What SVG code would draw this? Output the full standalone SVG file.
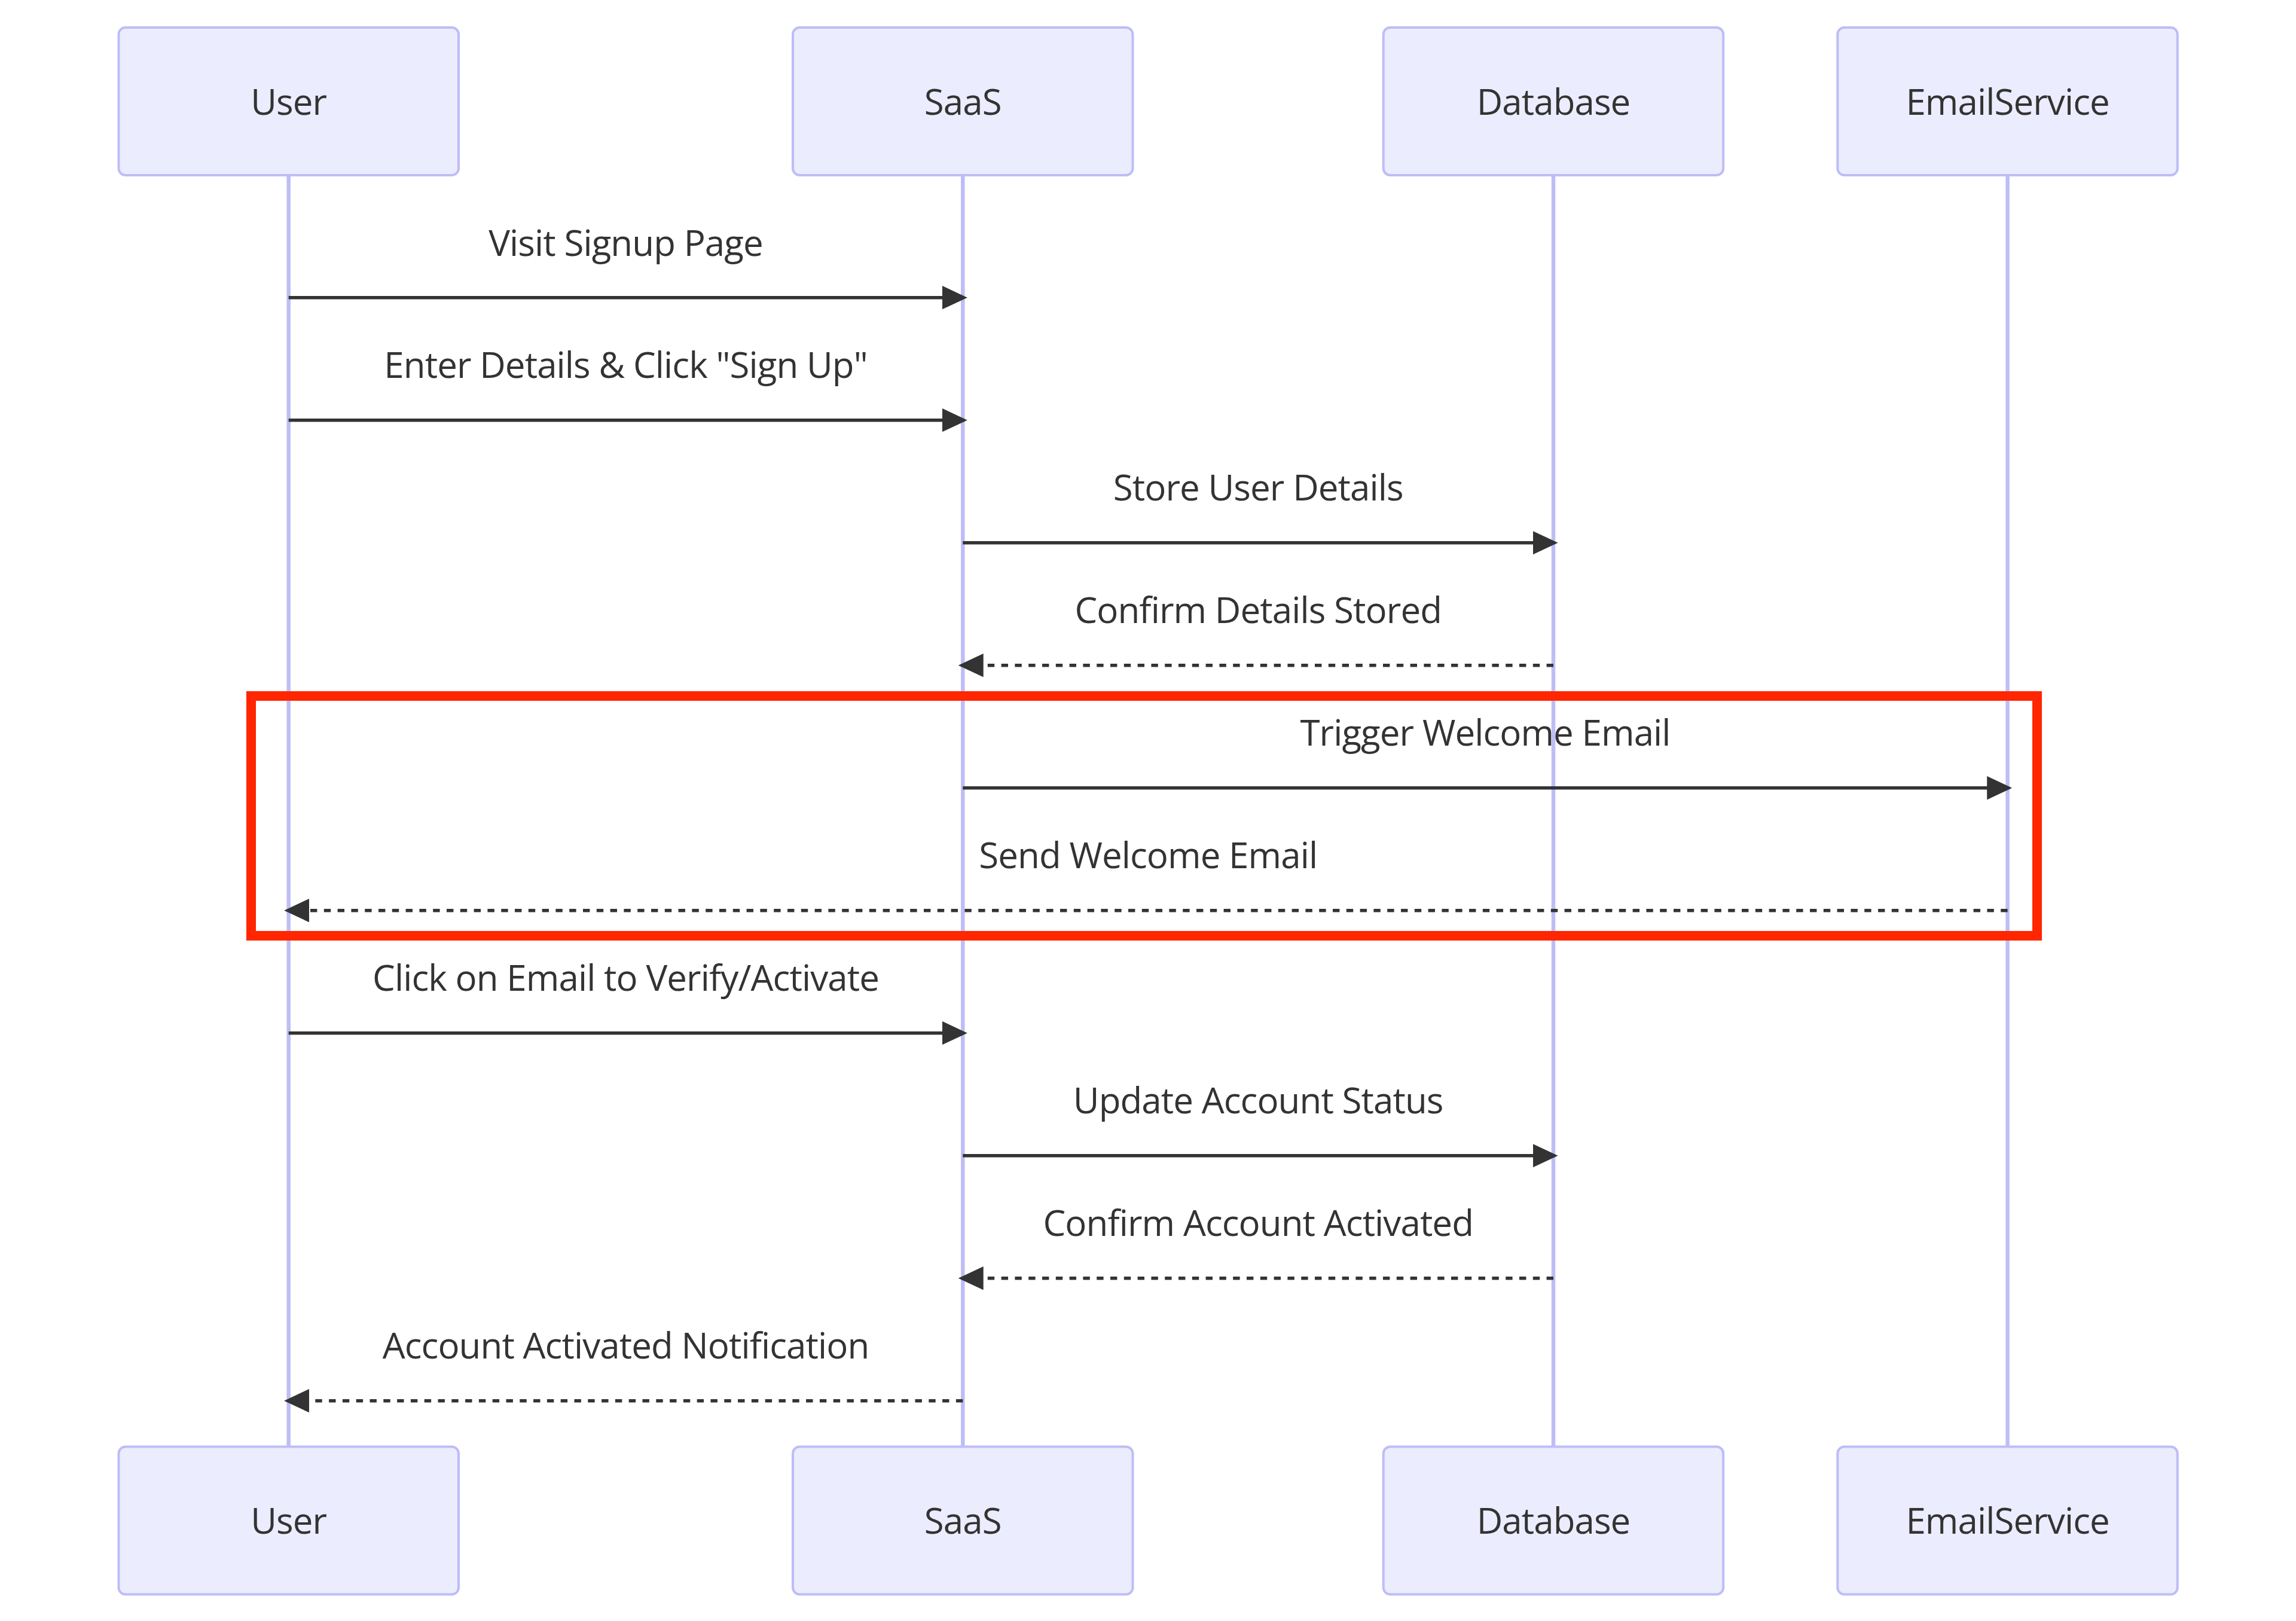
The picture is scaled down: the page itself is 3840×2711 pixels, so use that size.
<svg xmlns="http://www.w3.org/2000/svg" width="3840" height="2711" viewBox="0 0 3840 2711">
<defs>
<style>
.actor{fill:#ECECFF;stroke:#BDBDF7;stroke-width:4}
.atext{font-family:"Open Sans","Noto Sans","Liberation Sans",sans-serif;font-size:60px;letter-spacing:-0.9px;fill:#333333;text-anchor:middle}
.life{stroke:#BDBDF7;stroke-width:6.5}
.msg{stroke:#333333;stroke-width:5.5;fill:none}
.dash{stroke-dasharray:11.4 11.4}
.mtext{font-family:"Open Sans","Noto Sans","Liberation Sans",sans-serif;font-size:60px;letter-spacing:-0.9px;fill:#333333;text-anchor:middle}
</style>
<marker id="arrow" markerUnits="userSpaceOnUse" markerWidth="44" markerHeight="42" refX="34.4" refY="19.7" orient="auto">
<path d="M0,0 L42,19.7 L0,39.4 z" fill="#333333"/>
</marker>
</defs>
<rect width="3840" height="2711" fill="#FFFFFF"/>
<g id="lifelines">
<line class="life" x1="482.7" y1="293" x2="482.7" y2="2419.5"/>
<line class="life" x1="1610.3" y1="293" x2="1610.3" y2="2419.5"/>
<line class="life" x1="2598" y1="293" x2="2598" y2="2419.5"/>
<line class="life" x1="3357.6" y1="293" x2="3357.6" y2="2419.5"/>
</g>
<g id="actor-user-top"><rect class="actor" x="198.5" y="46" width="568.5" height="247" rx="11.4"/><text class="atext" x="482.7" y="192">User</text></g>
<g id="actor-saas-top"><rect class="actor" x="1326" y="46" width="568.5" height="247" rx="11.4"/><text class="atext" x="1610.3" y="192">SaaS</text></g>
<g id="actor-db-top"><rect class="actor" x="2313.7" y="46" width="568.5" height="247" rx="11.4"/><text class="atext" x="2598" y="192">Database</text></g>
<g id="actor-email-top"><rect class="actor" x="3073.3" y="46" width="568.5" height="247" rx="11.4"/><text class="atext" x="3357.6" y="192">EmailService</text></g>
<g id="actor-user-bottom"><rect class="actor" x="198.5" y="2419.5" width="568.5" height="247" rx="11.4"/><text class="atext" x="482.7" y="2565">User</text></g>
<g id="actor-saas-bottom"><rect class="actor" x="1326" y="2419.5" width="568.5" height="247" rx="11.4"/><text class="atext" x="1610.3" y="2565">SaaS</text></g>
<g id="actor-db-bottom"><rect class="actor" x="2313.7" y="2419.5" width="568.5" height="247" rx="11.4"/><text class="atext" x="2598" y="2565">Database</text></g>
<g id="actor-email-bottom"><rect class="actor" x="3073.3" y="2419.5" width="568.5" height="247" rx="11.4"/><text class="atext" x="3357.6" y="2565">EmailService</text></g>
<g id="messages">
<line class="msg" x1="482.7" y1="497.7" x2="1610.3" y2="497.7" marker-end="url(#arrow)"/>
<text class="mtext" x="1046.5" y="427.7">Visit Signup Page</text>
<line class="msg" x1="482.7" y1="702.7" x2="1610.3" y2="702.7" marker-end="url(#arrow)"/>
<text class="mtext" x="1046.5" y="632.2">Enter Details &amp; Click "Sign Up"</text>
<line class="msg" x1="1610.3" y1="907.7" x2="2598" y2="907.7" marker-end="url(#arrow)"/>
<text class="mtext" x="2104.2" y="837.2">Store User Details</text>
<line class="msg dash" x1="2598" y1="1112.7" x2="1610.3" y2="1112.7" marker-end="url(#arrow)"/>
<text class="mtext" x="2104.2" y="1042.2">Confirm Details Stored</text>
<line class="msg" x1="1610.3" y1="1317.7" x2="3357.6" y2="1317.7" marker-end="url(#arrow)"/>
<text class="mtext" x="2484" y="1247.2">Trigger Welcome Email</text>
<line class="msg dash" x1="3357.6" y1="1522.7" x2="482.7" y2="1522.7" marker-end="url(#arrow)"/>
<text class="mtext" x="1920.2" y="1452.2">Send Welcome Email</text>
<line class="msg" x1="482.7" y1="1727.7" x2="1610.3" y2="1727.7" marker-end="url(#arrow)"/>
<text class="mtext" x="1046.5" y="1657.2">Click on Email to Verify/Activate</text>
<line class="msg" x1="1610.3" y1="1932.7" x2="2598" y2="1932.7" marker-end="url(#arrow)"/>
<text class="mtext" x="2104.2" y="1862.2">Update Account Status</text>
<line class="msg dash" x1="2598" y1="2137.7" x2="1610.3" y2="2137.7" marker-end="url(#arrow)"/>
<text class="mtext" x="2104.2" y="2067.2">Confirm Account Activated</text>
<line class="msg dash" x1="1610.3" y1="2342.7" x2="482.7" y2="2342.7" marker-end="url(#arrow)"/>
<text class="mtext" x="1046.5" y="2272.2">Account Activated Notification</text>
</g>
<rect id="highlight" x="420" y="1164" width="2987" height="401" fill="none" stroke="#FF2600" stroke-width="16"/>
</svg>
